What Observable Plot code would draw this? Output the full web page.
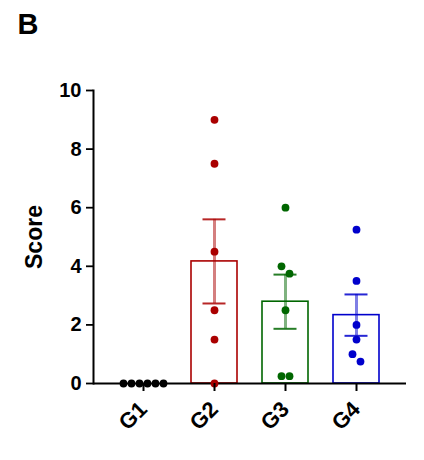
<!DOCTYPE html>
<html>
<head>
<meta charset="utf-8">
<script src="https://cdn.jsdelivr.net/npm/d3@7"></script>
<script src="https://cdn.jsdelivr.net/npm/@observablehq/plot@0.6"></script>
<style>
  html, body { margin: 0; padding: 0; background: #fff; }
  #chart svg { display: block; }
</style>
</head>
<body>
<div id="chart"></div>
<script>
// ---- data ----
const groups = ["G1", "G2", "G3", "G4"];
const colors = ["#000000", "#aa0000", "#006600", "#0000cc"];
const g1Values = [0, 0, 0, 0, 0, 0];
const g2Values = [9, 7.5, 4.5, 2.5, 1.5, 0];
const g3Values = [6, 4, 3.75, 2.5, 0.25, 0.25];
const g4Values = [5.25, 3.5, 2, 1.5, 1, 0.75];
// horizontal scatter slot of each point (in dot widths)
const g1Slots = [-2.5, -1.5, -0.5, 0.5, 1.5, 2.5];
const g2Slots = [0, 0, 0, 0, 0, 0];
const g3Slots = [0, -0.5, 0.5, 0, -0.5, 0.5];
const g4Slots = [0, 0, 0, 0, -0.5, 0.5];
const yTicks = [0, 2, 4, 6, 8, 10];

const allValues = [g1Values, g2Values, g3Values, g4Values];
const allSlots = [g1Slots, g2Slots, g3Slots, g4Slots];

const points = [];
groups.forEach((g, i) => {
  allValues[i].forEach((v, j) => points.push({group: g, value: v, slot: allSlots[i][j]}));
});

const summary = groups.map((g, i) => {
  const vals = allValues[i];
  const m = d3.mean(vals);
  const sem = d3.deviation(vals) / Math.sqrt(vals.length);
  return {group: g, mean: m, lo: m - sem, hi: m + sem};
});

const colorScale = {domain: groups, range: colors};
const font = "'Liberation Sans', Arial, sans-serif";
const slots = Array.from(new Set(points.map(d => d.slot)));
const dotSpacing = 8;

const chart = Plot.plot({
  width: 424,
  height: 460,
  marginLeft: 93,
  marginRight: 18,
  marginTop: 90,
  marginBottom: 77,
  style: {fontFamily: font, background: "white"},
  x: {domain: groups, padding: 0.35},
  y: {domain: [0, 10]},
  color: colorScale,
  marks: [
    Plot.barY(summary, {x: "group", y: "mean", fill: "white", stroke: "group", strokeWidth: 1.6}),
    Plot.ruleX(summary.filter(d => d.hi > d.lo), {x: "group", y1: "lo", y2: "hi", stroke: "group", strokeWidth: 3, strokeOpacity: 0.5}),
    Plot.tickY(summary.filter(d => d.hi > d.lo), {x: "group", y: "hi", stroke: "group", strokeWidth: 2, strokeOpacity: 0.85, insetLeft: 11.5, insetRight: 11.5}),
    Plot.tickY(summary.filter(d => d.hi > d.lo), {x: "group", y: "lo", stroke: "group", strokeWidth: 2, strokeOpacity: 0.85, insetLeft: 11.5, insetRight: 11.5}),
    Plot.ruleY([0], {stroke: "black", strokeWidth: 2}),
    Plot.frame({anchor: "left", stroke: "black", strokeWidth: 2}),
    ...slots.map(s => Plot.dot(points.filter(d => d.slot === s), {
      x: "group", y: "value", fill: "group", r: 3.9, dx: s * dotSpacing
    })),
    Plot.axisY({
      ticks: yTicks, tickSize: 7, tickPadding: 5, label: null,
      fontSize: 20, fontWeight: "bold", strokeWidth: 1.8, color: "black"
    }),
    Plot.axisX({
      tickSize: 8, tickPadding: 14, tickRotate: -45, label: null,
      fontSize: 22, fontWeight: "bold", strokeWidth: 2, color: "black"
    }),
    Plot.text(["Score"], {
      frameAnchor: "left", text: d => d, rotate: -90, dx: -59, textAnchor: "middle",
      fontSize: 23, fontWeight: "bold", fill: "black"
    }),
    Plot.text(["B"], {
      frameAnchor: "top-left", text: d => d, textAnchor: "start", lineAnchor: "top",
      dx: -76, dy: -77, fontSize: 29, fontWeight: "bold", fill: "black"
    })
  ]
});
document.getElementById("chart").appendChild(chart);
</script>
</body>
</html>
